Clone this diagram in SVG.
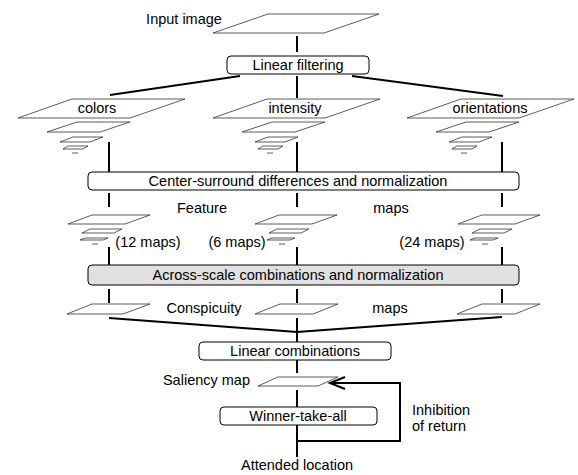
<svg xmlns="http://www.w3.org/2000/svg" xmlns:xlink="http://www.w3.org/1999/xlink" width="578" height="475" viewBox="0 0 578 475">
<style>
text{font-family:"Liberation Sans",Arial,sans-serif;font-size:14.5px;fill:#000}
.c{text-anchor:middle}
.box{fill:#fff;stroke:#000;stroke-width:1}
.gbox{fill:#e0e0e0;stroke:#000;stroke-width:1}
.pl{fill:#fff;stroke:#333;stroke-width:0.8}
.ln{fill:none;stroke:#000;stroke-width:2}
</style>
<defs>
<g id="bigpyr">
<path class="pl" d="M0,0 L54,-19 L167,-19 L112,0 Z"/>
<path class="pl" d="M29,14 L59,4 L112,4 L82,14 Z"/>
<path class="pl" d="M42,24 L55,19 L85,19 L72,24 Z"/>
<path class="pl" d="M45,31 L50,28 L70,28 L65,31 Z"/>
<path class="pl" d="M54,35 L60,35"/>
</g>
<g id="smallpyr">
<path class="pl" d="M0,0 L24,-9 L82,-9 L57,0 Z"/>
<path class="pl" d="M14,9 L22,5 L54,5 L46,9 Z"/>
<path class="pl" d="M12,16 L17,14 L40,14 L35,16 Z"/>
<path class="pl" d="M24,20 L30,20"/>
</g>
</defs>

<g id="connectors">
<path class="ln" d="M297,36 V52"/>
<path class="ln" d="M297,76 V98"/>
<path class="ln" d="M240,76 L110,95"/>
<path class="ln" d="M352,76 L503,96"/>
<path class="ln" d="M109,142 V172"/>
<path class="ln" d="M297,142 V172"/>
<path class="ln" d="M502,142 V172"/>
<path class="ln" d="M109,193 V207"/>
<path class="ln" d="M297,193 V207"/>
<path class="ln" d="M502,193 V207"/>
<path class="ln" d="M109,247 V265"/>
<path class="ln" d="M297,247 V265"/>
<path class="ln" d="M502,247 V265"/>
<path class="ln" d="M109,289 V303"/>
<path class="ln" d="M297,289 V303"/>
<path class="ln" d="M502,289 V303"/>
<path class="ln" d="M109,318 L297,332 L502,317"/>
<path class="ln" d="M297,318 V342"/>
<path class="ln" d="M297,360 V373"/>
<path class="ln" d="M297,390 V407"/>
<path class="ln" d="M297,425 V457"/>
<path class="ln" d="M297,441 H400 V383 H330"/>
<path class="ln" d="M345,377 L330,383 L345,389"/>
</g>

<g id="input-image">
<path class="pl" d="M213,33 L268,14 L379,14 L324,33 Z"/>
<text x="184" y="24" class="c">Input image</text>
</g>

<g id="linear-filtering">
<rect class="box" x="227" y="56" width="142" height="18" rx="4"/>
<text x="298" y="70" class="c">Linear filtering</text>
</g>

<g id="colors">
<use href="#bigpyr" xlink:href="#bigpyr" x="18" y="118"/>
<text x="97" y="113" class="c">colors</text>
</g>
<g id="intensity">
<use href="#bigpyr" xlink:href="#bigpyr" x="213" y="118"/>
<text x="295" y="113" class="c">intensity</text>
</g>
<g id="orientations">
<use href="#bigpyr" xlink:href="#bigpyr" x="407" y="118"/>
<text x="490" y="113" class="c">orientations</text>
</g>

<g id="center-surround">
<rect class="box" x="88" y="172" width="431" height="18" rx="4"/>
<text x="298" y="186" class="c">Center-surround differences and normalization</text>
</g>

<g id="feature-maps">
<use href="#smallpyr" xlink:href="#smallpyr" x="68" y="224"/>
<use href="#smallpyr" xlink:href="#smallpyr" x="255" y="224"/>
<use href="#smallpyr" xlink:href="#smallpyr" x="458" y="224"/>
<text x="202" y="213" class="c">Feature</text>
<text x="391" y="213" class="c">maps</text>
<text x="148" y="247" class="c">(12 maps)</text>
<text x="237" y="247" class="c">(6 maps)</text>
<text x="432" y="247" class="c">(24 maps)</text>
</g>

<g id="across-scale">
<rect class="gbox" x="88" y="265" width="431" height="20" rx="4"/>
<text x="298" y="280" class="c">Across-scale combinations and normalization</text>
</g>

<g id="conspicuity-maps">
<path class="pl" d="M67,314 L92,304 L150,304 L123,314 Z"/>
<path class="pl" d="M255,314 L280,304 L338,304 L313,314 Z"/>
<path class="pl" d="M457,314 L482,304 L540,304 L515,314 Z"/>
<text x="204" y="313" class="c">Conspicuity</text>
<text x="390" y="313" class="c">maps</text>
</g>

<g id="linear-combinations">
<rect class="box" x="199" y="342" width="192" height="18" rx="4"/>
<text x="295" y="356" class="c">Linear combinations</text>
</g>

<g id="saliency-map">
<path class="pl" d="M258,386 L278,377 L338,377 L318,386 Z"/>
<text x="250" y="385" text-anchor="end">Saliency map</text>
</g>

<g id="winner-take-all">
<rect class="box" x="220" y="407" width="157" height="18" rx="4"/>
<text x="298" y="421" class="c">Winner-take-all</text>
</g>

<g id="inhibition">
<text x="412" y="415">Inhibition</text>
<text x="412" y="431">of return</text>
</g>

<g id="attended-location">
<text x="297" y="470" class="c">Attended location</text>
</g>
</svg>
